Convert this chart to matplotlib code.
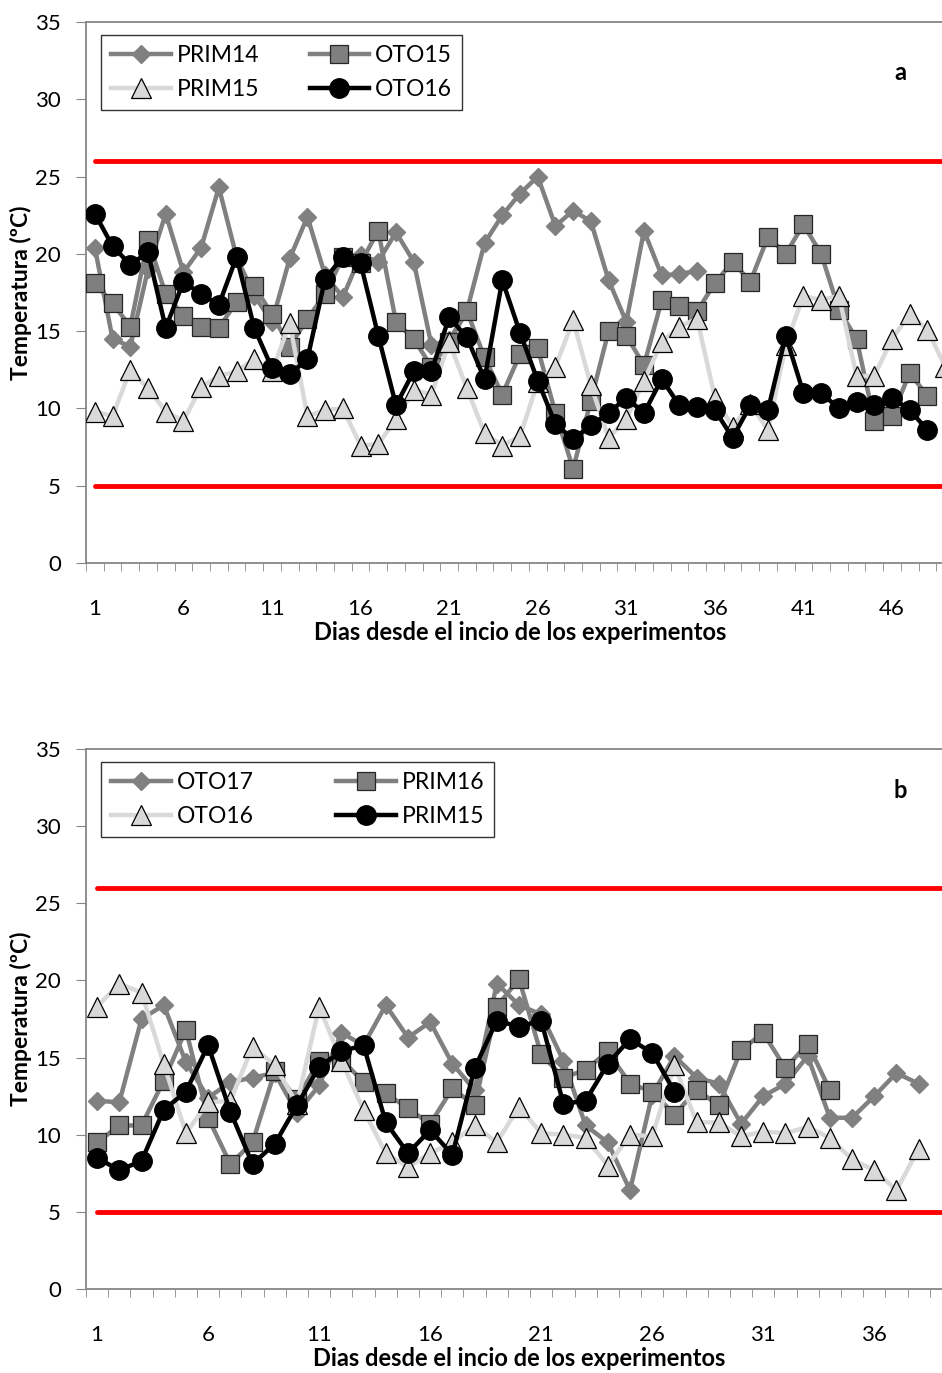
import matplotlib
matplotlib.use('Agg')
import matplotlib.pyplot as plt
import numpy as np

plt.rcParams['font.family'] = ['Lato', 'DejaVu Sans']

# ---- panel a ----
nombres_a = ['PRIM14', 'OTO15', 'PRIM15', 'OTO16']
prim14_a = [20.4, 14.5, 14.0, 19.0, 22.6, 18.8, 20.4, 24.3, 19.8, 17.3, 15.6, 19.7, 22.4, 18.6,
            17.2, 19.9, 19.5, 21.4, 19.5, 14.1, 14.4, 16.3, 20.7, 22.5, 23.9, 25.0, 21.8, 22.8,
            22.1, 18.3, 15.6, 21.5, 18.6, 18.7, 18.9]
oto15_a = [18.1, 16.8, 15.3, 20.9, 17.4, 16.0, 15.3, 15.2, 16.9, 17.9, 16.1, 14.0, 15.8, 17.4,
           19.8, 19.4, 21.5, 15.6, 14.5, 12.7, 14.3, 16.3, 13.3, 10.9, 13.5, 13.9, 9.7, 6.1,
           10.5, 15.0, 14.7, 12.8, 17.0, 16.6, 16.3, 18.1, 19.5, 18.2, 21.1, 20.0, 21.9, 20.0,
           16.4, 14.5, 9.2, 9.5, 12.3, 10.8]
prim15_a = [9.8, 9.5, 12.5, 11.3, 9.8, 9.2, 11.4, 12.1, 12.4, 13.2, 12.4, 15.5, 9.5, 9.9,
            10.0, 7.6, 7.7, 9.3, 11.2, 10.9, 14.3, 11.3, 8.4, 7.6, 8.2, 11.7, 12.7, 15.7,
            11.5, 8.1, 9.3, 11.8, 14.3, 15.3, 15.8, 10.7, 8.8, 10.3, 8.6, 14.1, 17.3, 17.0,
            17.3, 12.1, 12.1, 14.5, 16.1, 15.1, 12.7]
oto16_a = [22.6, 20.5, 19.3, 20.1, 15.2, 18.2, 17.4, 16.7, 19.8, 15.2, 12.6, 12.2, 13.2, 18.4,
           19.8, 19.4, 14.7, 10.2, 12.4, 12.4, 15.9, 14.6, 11.9, 18.3, 14.9, 11.8, 9.0, 8.0,
           8.9, 9.7, 10.7, 9.7, 11.9, 10.2, 10.1, 9.9, 8.1, 10.2, 9.9, 14.7, 11.0, 11.0,
           10.0, 10.4, 10.2, 10.7, 9.9, 8.6]
n_dias_a = 49

# ---- panel b ----
nombres_b = ['OTO17', 'PRIM16', 'OTO16', 'PRIM15']
oto17_b = [12.2, 12.1, 17.5, 18.4, 14.7, 12.4, 13.4, 13.7, 14.0, 11.4, 13.2, 16.6, 15.8, 18.4,
           16.3, 17.3, 14.6, 12.9, 19.8, 18.4, 17.8, 14.8, 10.6, 9.5, 6.4, 12.6, 15.1, 13.7,
           13.3, 10.7, 12.5, 13.3, 15.1, 11.1, 11.1, 12.5, 14.0, 13.3]
prim16_b = [9.5, 10.6, 10.6, 13.5, 16.8, 11.1, 8.1, 9.5, 14.1, 12.3, 14.8, 14.9, 13.4, 12.7,
            11.7, 10.7, 13.0, 11.9, 18.3, 20.1, 15.2, 13.7, 14.2, 15.4, 13.3, 12.8, 11.3, 12.9,
            11.9, 15.5, 16.6, 14.3, 15.9, 12.9]
oto16_b = [18.3, 19.8, 19.2, 14.6, 10.1, 12.1, 12.2, 15.7, 14.5, 12.0, 18.3, 14.8, 11.6, 8.8,
           7.9, 8.8, 9.5, 10.6, 9.5, 11.8, 10.1, 10.0, 9.8, 8.0, 10.0, 9.9, 14.5, 10.8,
           10.8, 9.9, 10.2, 10.1, 10.5, 9.8, 8.4, 7.7, 6.4, 9.1]
prim15_b = [8.5, 7.7, 8.3, 11.6, 12.8, 15.8, 11.5, 8.1, 9.4, 11.9, 14.4, 15.4, 15.8, 10.8,
            8.8, 10.3, 8.7, 14.3, 17.4, 17.0, 17.4, 12.0, 12.2, 14.6, 16.2, 15.3, 12.8]
n_dias_b = 39

lim_sup = 26
lim_inf = 5

estilos = [
    dict(color='#808080', marker='D', ms=9, mfc='#808080', mec='#808080', lw=3.2),
    dict(color='#808080', marker='s', ms=13, mfc='#7f7f7f', mec='#262626', mew=0.9, lw=3.2),
    dict(color='#d9d9d9', marker='^', ms=15, mfc='#d9d9d9', mec='#000000', mew=0.9, lw=3.2),
    dict(color='#000000', marker='o', ms=14, mfc='#000000', mec='#000000', lw=3.2),
]

W, H = 942, 1373
fig = plt.figure(figsize=(W / 100, H / 100), dpi=100)
eje_gris = '#868686'


def panel(rect_px, series, nombres, n_dias, letra, y_letra, colsp):
    x0, y_top, x1, y_bot = rect_px
    ax = fig.add_axes([x0 / W, 1 - y_bot / H, (x1 - x0) / W, (y_bot - y_top) / H])
    dias = np.arange(1, n_dias + 1)
    ax.plot(dias, np.full(n_dias, lim_sup), color='#ff0000', lw=3.5,
            solid_capstyle='round', zorder=1)
    ax.plot(dias, np.full(n_dias, lim_inf), color='#ff0000', lw=3.5,
            solid_capstyle='round', zorder=1)
    lineas = []
    for i, (vals, nom) in enumerate(zip(series, nombres)):
        x = np.arange(1, len(vals) + 1)
        l, = ax.plot(x, vals, label=nom, zorder=2 + i, **estilos[i])
        lineas.append(l)

    ax.set_xlim(0.5, n_dias + 0.5)
    ax.set_ylim(0, 35)
    ax.set_yticks(np.arange(0, 36, 5))
    ax.set_xticks(np.arange(1, n_dias, 5))
    ax.set_xticks(np.arange(0.5, n_dias + 1, 1), minor=True)
    ax.tick_params(axis='x', which='major', length=0, pad=26, labelsize=16)
    ax.tick_params(axis='x', which='minor', length=6, color=eje_gris, direction='out')
    ax.tick_params(axis='y', length=7, color=eje_gris, pad=11, labelsize=16)
    for s in ['left', 'bottom', 'top']:
        ax.spines[s].set_color(eje_gris)
        ax.spines[s].set_linewidth(1.3)
    ax.spines['right'].set_visible(False)

    w_ax = x1 - x0
    h_ax = y_bot - y_top
    ax.set_ylabel('Temperatura (ºC)', fontsize=16.5, fontweight='bold', va='center')
    ax.yaxis.set_label_coords(-(x0 - 21) / w_ax, 0.5)
    ax.set_xlabel('Dias desde el incio de los experimentos', fontsize=17,
                  fontweight='bold', va='center')
    ax.xaxis.set_label_coords(0.5, -70 / h_ax)

    orden = [lineas[0], lineas[2], lineas[1], lineas[3]]
    leg = ax.legend(orden, [l.get_label() for l in orden], ncol=2, loc='upper left',
                    bbox_to_anchor=(101 / W, 1 - (y_top + 13) / H),
                    bbox_transform=fig.transFigure, fontsize=16.5, frameon=True,
                    fancybox=False, edgecolor='black', handlelength=2.6,
                    handletextpad=0.25, columnspacing=colsp, labelspacing=0.55,
                    borderpad=0.45, borderaxespad=0)
    leg.get_frame().set_linewidth(1.0)

    fig.text(900 / W, 1 - y_letra / H, letra, fontsize=17, fontweight='bold',
             ha='center', va='center')
    return ax


panel((86, 22, 954, 563), [prim14_a, oto15_a, prim15_a, oto16_a], nombres_a,
      n_dias_a, 'a', 72, 2.2)
panel((86, 749, 952, 1289), [oto17_b, prim16_b, oto16_b, prim15_b], nombres_b,
      n_dias_b, 'b', 790, 3.6)

fig.savefig('out.png', dpi=100)
